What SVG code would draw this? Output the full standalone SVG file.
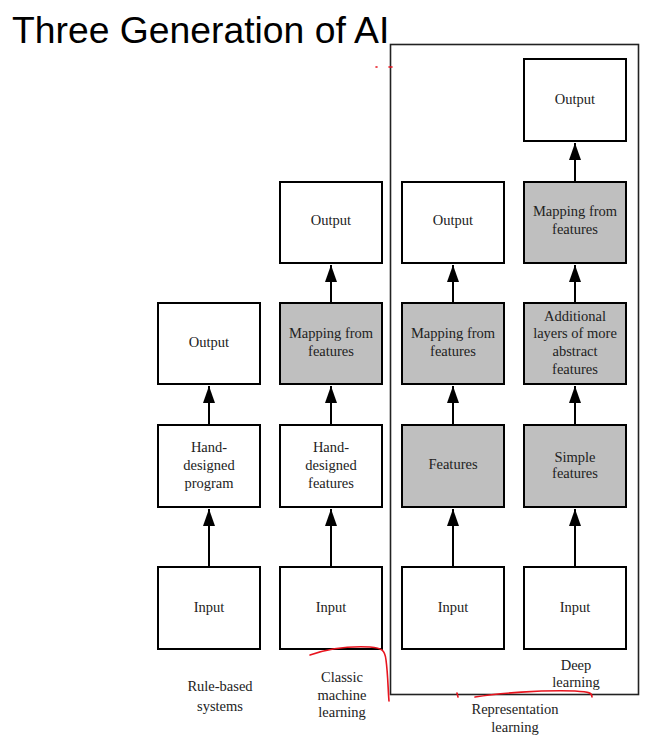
<svg xmlns="http://www.w3.org/2000/svg" width="663" height="742" viewBox="0 0 663 742">
<style>
.b{fill:#fff;stroke:#000;stroke-width:2}
.g{fill:#bfbfbf;stroke:#000;stroke-width:2}
.t{font-family:"Liberation Serif","DejaVu Serif",serif;font-size:14.5px;fill:#222;text-anchor:middle}
.c{stroke:#000;stroke-width:2;fill:none;marker-end:url(#ah)}
.r{stroke:#e8141e;stroke-width:1.6;fill:none;stroke-linecap:round}
</style>
<defs>
<marker id="ah" markerUnits="userSpaceOnUse" viewBox="0 0 17 12" refX="17" refY="6" markerWidth="17" markerHeight="12" orient="auto">
<path d="M0,0 L17,6 L0,12 z" fill="#000"/>
</marker>
</defs>
<rect width="663" height="742" fill="#fff"/>
<text x="12" y="43" font-family="Liberation Sans, Arial, sans-serif" font-size="37.3" fill="#000">Three Generation of AI</text>
<rect id="frame" x="390.5" y="44.5" width="248" height="650" fill="none" stroke="#222" stroke-width="1.6"/>

<g id="connectors">
<line class="c" x1="209" y1="567" x2="209" y2="509"/>
<line class="c" x1="209" y1="425" x2="209" y2="386"/>
<line class="c" x1="331" y1="567" x2="331" y2="509"/>
<line class="c" x1="331" y1="425" x2="331" y2="386"/>
<line class="c" x1="331" y1="303" x2="331" y2="265"/>
<line class="c" x1="453" y1="567" x2="453" y2="509"/>
<line class="c" x1="453" y1="425" x2="453" y2="386"/>
<line class="c" x1="453" y1="303" x2="453" y2="265"/>
<line class="c" x1="575" y1="567" x2="575" y2="509"/>
<line class="c" x1="575" y1="425" x2="575" y2="386"/>
<line class="c" x1="575" y1="303" x2="575" y2="265"/>
<line class="c" x1="575" y1="182" x2="575" y2="143"/>
</g>

<g id="c1-input"><rect class="b" x="158" y="567" width="102" height="82"/><text class="t" x="209" y="612">Input</text></g>
<g id="c1-program"><rect class="b" x="158" y="425" width="102" height="82"/><text class="t" x="209" y="452">Hand-</text><text class="t" x="209" y="470">designed</text><text class="t" x="209" y="488">program</text></g>
<g id="c1-output"><rect class="b" x="158" y="303" width="102" height="81"/><text class="t" x="209" y="347">Output</text></g>

<g id="c2-input"><rect class="b" x="280" y="567" width="102" height="82"/><text class="t" x="331" y="612">Input</text></g>
<g id="c2-features"><rect class="b" x="280" y="425" width="102" height="82"/><text class="t" x="331" y="452">Hand-</text><text class="t" x="331" y="470">designed</text><text class="t" x="331" y="488">features</text></g>
<g id="c2-mapping"><rect class="g" x="280" y="303" width="102" height="81"/><text class="t" x="331" y="338">Mapping from</text><text class="t" x="331" y="356">features</text></g>
<g id="c2-output"><rect class="b" x="280" y="182" width="102" height="81"/><text class="t" x="331" y="225">Output</text></g>

<g id="c3-input"><rect class="b" x="402" y="567" width="102" height="82"/><text class="t" x="453" y="612">Input</text></g>
<g id="c3-features"><rect class="g" x="402" y="425" width="102" height="82"/><text class="t" x="453" y="469">Features</text></g>
<g id="c3-mapping"><rect class="g" x="402" y="303" width="102" height="81"/><text class="t" x="453" y="338">Mapping from</text><text class="t" x="453" y="356">features</text></g>
<g id="c3-output"><rect class="b" x="402" y="182" width="102" height="81"/><text class="t" x="453" y="225">Output</text></g>

<g id="c4-input"><rect class="b" x="524" y="567" width="102" height="82"/><text class="t" x="575" y="612">Input</text></g>
<g id="c4-simple"><rect class="g" x="524" y="425" width="102" height="82"/><text class="t" x="575" y="462">Simple</text><text class="t" x="575" y="478">features</text></g>
<g id="c4-additional"><rect class="g" x="524" y="303" width="102" height="81"/><text class="t" x="575" y="321">Additional</text><text class="t" x="575" y="338">layers of more</text><text class="t" x="575" y="356">abstract</text><text class="t" x="575" y="374">features</text></g>
<g id="c4-mapping"><rect class="g" x="524" y="182" width="102" height="81"/><text class="t" x="575" y="216">Mapping from</text><text class="t" x="575" y="234">features</text></g>
<g id="c4-output"><rect class="b" x="524" y="59" width="102" height="82"/><text class="t" x="575" y="104">Output</text></g>

<g id="labels">
<text class="t" x="220" y="691">Rule-based</text><text class="t" x="220" y="711">systems</text>
<text class="t" x="342" y="682">Classic</text><text class="t" x="342" y="700">machine</text><text class="t" x="342" y="717">learning</text>
<text class="t" x="576" y="670">Deep</text><text class="t" x="576" y="687">learning</text>
<text class="t" x="515" y="714">Representation</text><text class="t" x="515" y="732">learning</text>
</g>

<g id="annotations">
<path class="r" d="M310,655 C330,648 350,646 370,647 C382,648 385,650 386,660 C388,675 388,690 389,701"/>
<path class="r" d="M475,697 C500,693 540,690 575,691 C590,692 592,693 592,697"/>
<path class="r" d="M457,693 L458,697"/>
<path class="r" d="M376,67 L377,67"/>
<path class="r" d="M389,67 L392,67"/>
</g>
</svg>
